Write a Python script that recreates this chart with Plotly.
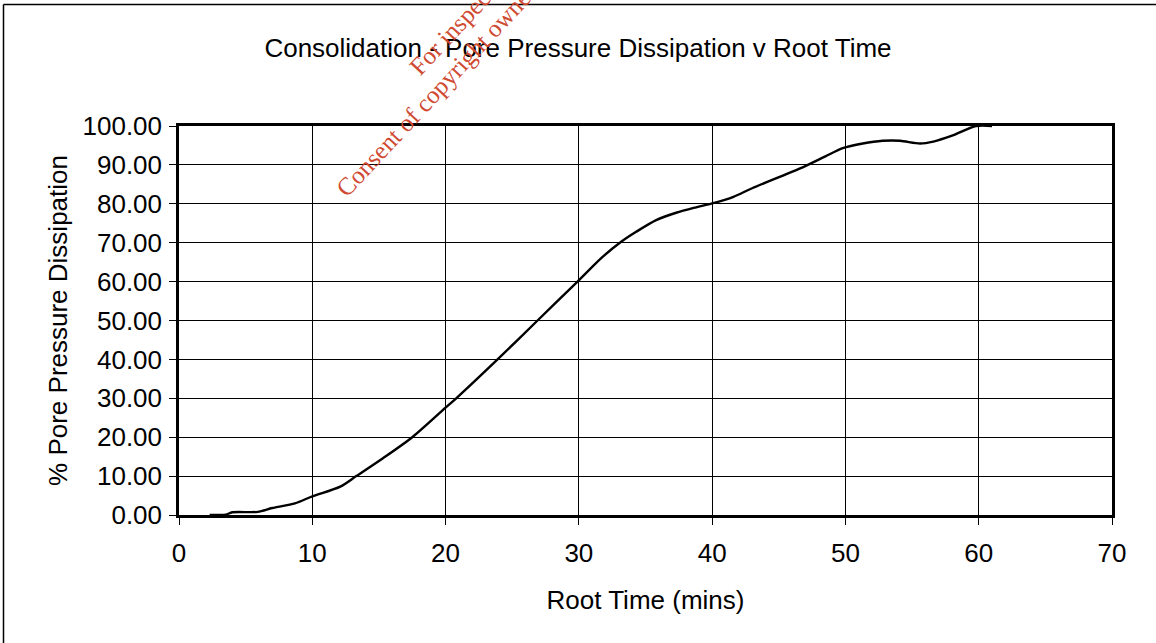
import plotly.graph_objects as go

# Data (root time in mins, % pore pressure dissipation)
root_time = [2.3, 3.5, 4.0, 5.9, 7.0, 8.7, 10.0, 12.1, 13.3, 15.3, 17.5, 20.0,
             20.8, 23.9, 26.9, 29.9, 31.8, 33.2, 34.3, 35.8, 37.3, 38.8, 40.0,
             41.6, 43.0, 46.6, 48.5, 49.8, 51.3, 52.8, 54.1, 55.6, 56.6, 58.0,
             59.8, 61.0]
dissipation = [0.0, 0.1, 0.7, 0.8, 1.8, 3.0, 4.8, 7.3, 10.0, 14.6, 20.0, 27.6,
               30.0, 40.0, 50.0, 60.0, 66.4, 70.3, 72.8, 75.8, 77.7, 79.1, 80.1,
               81.8, 84.0, 89.1, 92.2, 94.3, 95.5, 96.2, 96.2, 95.5, 96.0, 97.5,
               100.0, 100.0]

x_ticks = [0, 10, 20, 30, 40, 50, 60, 70]
y_ticks = [0, 10, 20, 30, 40, 50, 60, 70, 80, 90, 100]

title_text = "Consolidation - Pore Pressure Dissipation v Root Time"
x_title = "Root Time (mins)"
y_title = "% Pore Pressure Dissipation"
watermark_1 = "For inspection purposes only."
watermark_2 = "Consent of copyright owner required for any other use."

FONT = "Liberation Sans, Arial, sans-serif"
FS = 26

fig = go.Figure()
fig.add_trace(go.Scatter(
    x=root_time, y=dissipation, mode="lines",
    line=dict(color="black", width=2.4, shape="spline", smoothing=0.8),
    showlegend=False, hoverinfo="skip"))

axis_common = dict(
    showline=True, linecolor="black", linewidth=2.5, mirror=True,
    showgrid=True, gridcolor="black", gridwidth=1,
    ticks="outside", ticklen=7, tickwidth=1, tickcolor="black",
    zeroline=False,
    tickfont=dict(family=FONT, size=FS, color="black"),
)

fig.update_layout(
    width=1156, height=643,
    margin=dict(l=179, r=44, t=126, b=128, autoexpand=False),
    paper_bgcolor="white", plot_bgcolor="white",
    font=dict(family=FONT, color="black"),
    title=dict(text=title_text, x=0.5, xref="container", xanchor="center",
               y=1 - 48 / 643, yref="container", yanchor="middle",
               font=dict(family=FONT, size=FS, color="black")),
    xaxis=dict(range=[0, 70], tickvals=x_ticks, ticktext=[str(v) for v in x_ticks],
               ticklabelstandoff=6,
               title=dict(text=x_title, standoff=24,
                          font=dict(family=FONT, size=FS, color="black")),
               **axis_common),
    yaxis=dict(range=[0, 100], tickvals=y_ticks, tickformat=".2f",
               ticklabelstandoff=2,
               title=dict(text=y_title, standoff=8,
                          font=dict(family=FONT, size=FS, color="black")),
               **axis_common),
)

# Outer chart frame (left and top edges visible)
fig.add_shape(type="line", xref="paper", yref="paper",
              x0=(3.5 - 179) / 933, x1=(3.5 - 179) / 933,
              y0=(515 - 4.5) / 389, y1=(515 - 650) / 389,
              line=dict(color="black", width=1.5))
fig.add_shape(type="line", xref="paper", yref="paper",
              x0=(3.5 - 179) / 933, x1=(1160 - 179) / 933,
              y0=(515 - 4.5) / 389, y1=(515 - 4.5) / 389,
              line=dict(color="black", width=1.5))

# Watermark
for txt, cx, cy in [(watermark_1, 514, -37), (watermark_2, 528, -9)]:
    fig.add_annotation(text=txt, xref="paper", yref="paper",
                       x=(cx - 179) / 933, y=(515 - cy) / 389,
                       xanchor="center", yanchor="middle", showarrow=False,
                       textangle=-47,
                       font=dict(family="Liberation Serif, Times New Roman, serif",
                                 size=25, color="#d04a32"))

fig.write_html("out.html")
